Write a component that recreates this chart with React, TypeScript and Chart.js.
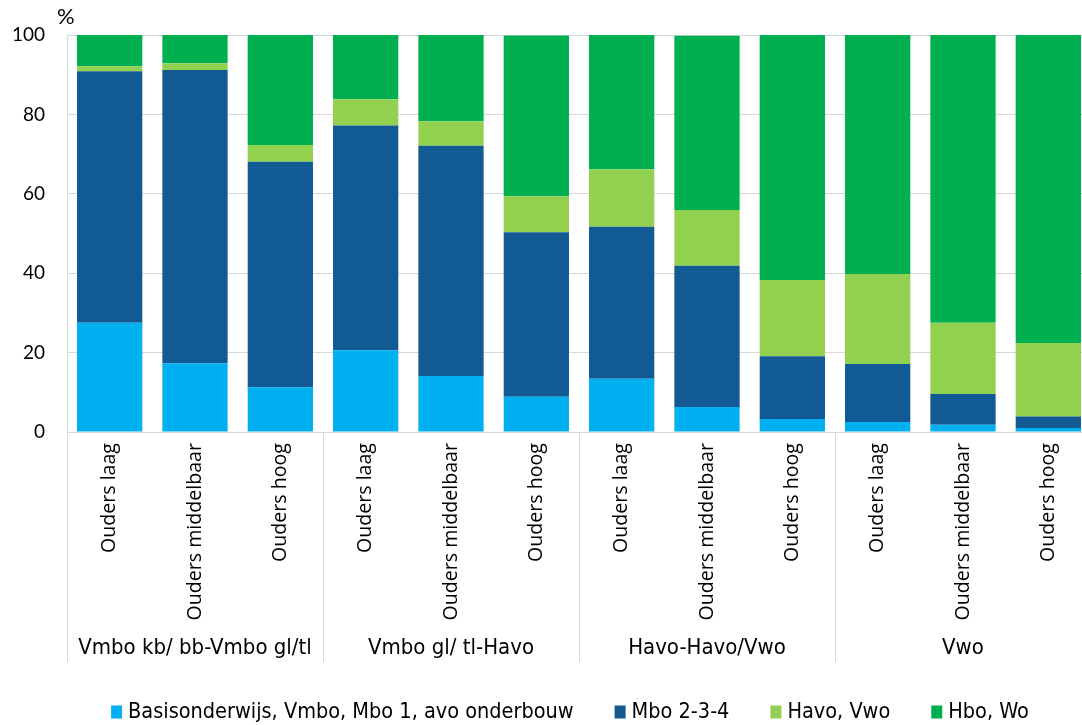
import React, { useEffect, useRef } from "react";
import { Chart, registerables } from "chart.js";

Chart.register(...registerables);

const categories = [
  "Ouders laag", "Ouders middelbaar", "Ouders hoog",
  "Ouders laag", "Ouders middelbaar", "Ouders hoog",
  "Ouders laag", "Ouders middelbaar", "Ouders hoog",
  "Ouders laag", "Ouders middelbaar", "Ouders hoog",
];
const groups = ["Vmbo kb/ bb-Vmbo gl/tl", "Vmbo gl/ tl-Havo", "Havo-Havo/Vwo", "Vwo"];
const seriesNames = ["Basisonderwijs, Vmbo, Mbo 1, avo onderbouw", "Mbo 2-3-4", "Havo, Vwo", "Hbo, Wo"];
const basis = [27.5, 17.3, 11.3, 20.6, 14.1, 8.9, 13.4, 6.3, 3.3, 2.5, 1.8, 1.0];
const mbo = [63.4, 73.9, 56.8, 56.6, 58.0, 41.4, 38.3, 35.6, 15.8, 14.6, 7.8, 2.9];
const havo = [1.2, 1.7, 4.2, 6.6, 6.2, 9.1, 14.5, 14.0, 19.2, 22.7, 17.9, 18.5];
const hbo = [7.9, 7.1, 27.7, 16.2, 21.7, 40.5, 33.8, 43.9, 61.7, 60.2, 72.5, 77.6];
const yTicks = [0, 20, 40, 60, 80, 100];
const colors = ["#00B0F0", "#125A93", "#92D050", "#00AF50"];

const NARROW = "'Liberation Sans Narrow', 'DejaVu Sans Condensed', sans-serif";
const GRID = "#D9D9D9";
const AXIS_H = 230;

export default function App() {
  const ref = useRef<HTMLCanvasElement | null>(null);

  useEffect(() => {
    if (!ref.current) return;
    const seriesValues = [basis, mbo, havo, hbo];

    const overlay = {
      id: "overlay",
      afterDraw(chart: any) {
        const ctx = chart.ctx;
        const ca = chart.chartArea;
        const x = chart.scales.x;
        const step = x.getPixelForValue(1) - x.getPixelForValue(0);
        const bottom = ca.bottom + AXIS_H;
        ctx.save();
        ctx.strokeStyle = GRID;
        ctx.lineWidth = 1;
        // group separators
        for (let g = 0; g <= groups.length; g++) {
          const px = Math.round(x.getPixelForValue(g * 3) - step / 2) + 0.5;
          ctx.beginPath();
          ctx.moveTo(px, g === 0 ? ca.top : ca.bottom);
          ctx.lineTo(px, bottom);
          ctx.stroke();
        }
        // group labels
        ctx.fillStyle = "#000";
        ctx.font = `22px ${NARROW}`;
        ctx.textAlign = "center";
        ctx.textBaseline = "middle";
        groups.forEach((g, i) => {
          const cx = x.getPixelForValue(i * 3 + 1);
          ctx.fillText(g, cx, 648);
        });
        // % label
        ctx.font = "22px Lato, sans-serif";
        ctx.textAlign = "left";
        ctx.fillText("%", 57, 17);
        // legend
        ctx.font = `21.5px ${NARROW}`;
        const boxW = 11, boxH = 13, gapBox = 6, gapItem = 41;
        const widths = seriesNames.map((n) => ctx.measureText(n).width);
        const total = widths.reduce((a, w) => a + boxW + gapBox + w, 0) + gapItem * (seriesNames.length - 1);
        let lx = 570 - total / 2;
        const ly = 712;
        seriesNames.forEach((n, i) => {
          ctx.fillStyle = colors[i];
          ctx.fillRect(lx, ly - boxH / 2, boxW, boxH);
          ctx.fillStyle = "#000";
          ctx.textAlign = "left";
          ctx.fillText(n, lx + boxW + gapBox, ly);
          lx += boxW + gapBox + widths[i] + gapItem;
        });
        ctx.restore();
      },
    };

    const chart = new Chart(ref.current, {
      type: "bar",
      data: {
        labels: categories,
        datasets: seriesNames.map((name, i) => ({
          label: name,
          data: seriesValues[i],
          backgroundColor: colors[i],
          borderWidth: 0,
          barPercentage: 0.765,
          categoryPercentage: 1,
        })),
      },
      options: {
        animation: false,
        responsive: false,
        maintainAspectRatio: false,
        layout: { padding: { top: 35, left: 0, right: 1, bottom: 63 } },
        plugins: { legend: { display: false }, tooltip: { enabled: false } },
        scales: {
          x: {
            stacked: true,
            grid: { display: false, drawTicks: false },
            border: { display: false },
            ticks: {
              autoSkip: false,
              minRotation: 90,
              maxRotation: 90,
              padding: 11,
              color: "#000",
              font: { size: 19.6, family: "'Open Sans', sans-serif" },
            },
            afterFit: (s: any) => { s.height = AXIS_H; },
          },
          y: {
            stacked: true,
            min: 0,
            max: 100,
            afterBuildTicks: (s: any) => { s.ticks = yTicks.map((v) => ({ value: v })); },
            grid: { color: GRID, lineWidth: 1, drawTicks: false },
            border: { display: true, color: GRID },
            ticks: {
              padding: 22,
              color: "#000",
              font: { size: 19, family: "Lato, sans-serif" },
            },
            afterFit: (s: any) => { s.width = 67; },
          },
        },
      },
      plugins: [overlay],
    });
    return () => chart.destroy();
  }, []);

  return (
    <div style={{ position: "fixed", left: 0, top: 0, width: 1082, height: 725, overflow: "hidden", background: "#fff" }}>
      <canvas ref={ref} width={1092} height={725} style={{ width: 1092, height: 725, display: "block" }} />
    </div>
  );
}
